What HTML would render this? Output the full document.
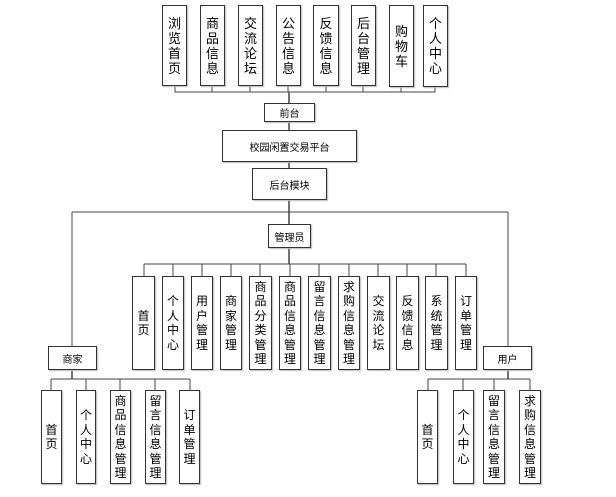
<!DOCTYPE html>
<html><head><meta charset="utf-8"><style>
body{margin:0;width:616px;height:497px;background:#fff;position:relative;overflow:hidden;font-family:"Liberation Sans","Noto Sans CJK SC",sans-serif;color:#000}
.b{position:absolute;border:1px solid #333;box-sizing:border-box;background:#fff;display:flex;align-items:center;justify-content:center;text-align:center;box-shadow:1px 1px 1px #bbb}
.v{font-size:12px;line-height:14.5px}
.t{font-size:13px;line-height:15px}
.h{font-size:10px}
svg{position:absolute;left:0;top:0}
</style></head><body>
<svg width="616" height="497" stroke="#444" stroke-width="1" fill="none">
<path d="M175 86V92H435V86M212 86V92M250 86V92M288 86V92M326 86V92M363 86V92M401 87V92"/>
<path d="M289 92V103M289 122V130M289 162V168M289 200V224" stroke-width="1.5"/>
<path d="M72 212H508M72 212V346M508 212V346"/>
<path d="M289 248V264" stroke-width="1.5"/>
<path d="M144 264H466M144 264V276M173 264V276M202 264V276M231 264V276M260 264V276M290 264V276M319 264V276M349 264V276M378 264V276M407 264V276M436 264V276M466 264V276"/>
<path d="M72 370V379M508 370V379" stroke-width="1.5"/>
<path d="M51 379H190M51 379V390M86 379V390M120 379V390M155 379V390M190 379V390"/>
<path d="M428 379H530M428 379V390M463 379V390M494 379V390M530 379V390"/>
</svg>
<div class="b t" style="left:162px;top:5px;width:25px;height:81px">浏<br>览<br>首<br>页</div>
<div class="b t" style="left:200px;top:5px;width:25px;height:81px">商<br>品<br>信<br>息</div>
<div class="b t" style="left:238px;top:5px;width:25px;height:81px">交<br>流<br>论<br>坛</div>
<div class="b t" style="left:276px;top:5px;width:25px;height:81px">公<br>告<br>信<br>息</div>
<div class="b t" style="left:313px;top:5px;width:26px;height:81px">反<br>馈<br>信<br>息</div>
<div class="b t" style="left:351px;top:5px;width:25px;height:81px">后<br>台<br>管<br>理</div>
<div class="b t" style="left:389px;top:5px;width:25px;height:82px">购<br>物<br>车</div>
<div class="b t" style="left:423px;top:5px;width:25px;height:82px">个<br>人<br>中<br>心</div>
<div class="b h" style="left:264px;top:103px;width:51px;height:19px">前台</div>
<div class="b h" style="left:222px;top:130px;width:135px;height:32px">校园闲置交易平台</div>
<div class="b h" style="left:252px;top:168px;width:75px;height:32px">后台模块</div>
<div class="b h" style="left:268px;top:224px;width:43px;height:24px">管理员</div>
<div class="b v" style="left:132px;top:276px;width:23px;height:94px">首<br>页</div>
<div class="b v" style="left:162px;top:276px;width:22px;height:94px">个<br>人<br>中<br>心</div>
<div class="b v" style="left:191px;top:276px;width:22px;height:94px">用<br>户<br>管<br>理</div>
<div class="b v" style="left:220px;top:276px;width:22px;height:94px">商<br>家<br>管<br>理</div>
<div class="b v" style="left:249px;top:276px;width:23px;height:94px">商<br>品<br>分<br>类<br>管<br>理</div>
<div class="b v" style="left:279px;top:276px;width:22px;height:94px">商<br>品<br>信<br>息<br>管<br>理</div>
<div class="b v" style="left:308px;top:276px;width:23px;height:94px">留<br>言<br>信<br>息<br>管<br>理</div>
<div class="b v" style="left:338px;top:276px;width:22px;height:94px">求<br>购<br>信<br>息<br>管<br>理</div>
<div class="b v" style="left:367px;top:276px;width:23px;height:94px">交<br>流<br>论<br>坛</div>
<div class="b v" style="left:396px;top:276px;width:23px;height:94px">反<br>馈<br>信<br>息</div>
<div class="b v" style="left:425px;top:276px;width:23px;height:94px">系<br>统<br>管<br>理</div>
<div class="b v" style="left:455px;top:276px;width:22px;height:94px">订<br>单<br>管<br>理</div>
<div class="b h" style="left:48px;top:346px;width:49px;height:24px">商家</div>
<div class="b h" style="left:483px;top:346px;width:49px;height:24px">用户</div>
<div class="b v" style="left:41px;top:390px;width:21px;height:94px">首<br>页</div>
<div class="b v" style="left:76px;top:390px;width:20px;height:94px">个<br>人<br>中<br>心</div>
<div class="b v" style="left:110px;top:390px;width:21px;height:94px">商<br>品<br>信<br>息<br>管<br>理</div>
<div class="b v" style="left:145px;top:390px;width:21px;height:94px">留<br>言<br>信<br>息<br>管<br>理</div>
<div class="b v" style="left:179px;top:390px;width:21px;height:94px">订<br>单<br>管<br>理</div>
<div class="b v" style="left:417px;top:390px;width:21px;height:94px">首<br>页</div>
<div class="b v" style="left:453px;top:390px;width:21px;height:94px">个<br>人<br>中<br>心</div>
<div class="b v" style="left:483px;top:390px;width:22px;height:94px">留<br>言<br>信<br>息<br>管<br>理</div>
<div class="b v" style="left:519px;top:390px;width:22px;height:94px">求<br>购<br>信<br>息<br>管<br>理</div>
</body></html>
